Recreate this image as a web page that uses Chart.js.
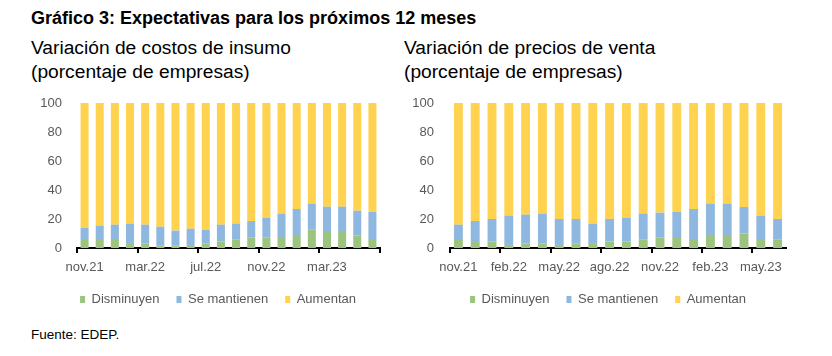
<!DOCTYPE html>
<html>
<head>
<meta charset="utf-8">
<script src="https://cdn.jsdelivr.net/npm/chart.js@4"></script>
<style>
  html, body { margin:0; padding:0; background:#fff; }
  body { width:832px; height:356px; position:relative; overflow:hidden; font-family:"Liberation Sans", Arial, sans-serif; }
  .t { position:absolute; white-space:nowrap; color:#000; }
  #title { left:31px; top:8px; font-size:18px; font-weight:bold; line-height:20px; }
  .sub { font-size:19.2px; line-height:24px; top:36px; }
  #subL { left:31px; }
  #subR { left:404px; }
  #src { left:31px; top:327px; font-size:13.5px; line-height:16px; }
  canvas { position:absolute; top:92px; }
  #cL { left:0px; }
  #cR { left:373px; }
</style>
</head>
<body>
<div id="title" class="t">Gráfico 3: Expectativas para los próximos 12 meses</div>
<div id="subL" class="t sub">Variación de costos de insumo<br>(porcentaje de empresas)</div>
<div id="subR" class="t sub">Variación de precios de venta<br>(porcentaje de empresas)</div>
<div id="src" class="t">Fuente: EDEP.</div>
<canvas id="cL" width="400" height="224"></canvas>
<canvas id="cR" width="433" height="224"></canvas>
<script>
const months = ["nov.21","dic.21","ene.22","feb.22","mar.22","abr.22","may.22","jun.22","jul.22","ago.22","sep.22","oct.22","nov.22","dic.22","ene.23","feb.23","mar.23","abr.23","may.23","jun.23"];
const seriesNames = ["Disminuyen","Se mantienen","Aumentan"];
const yTicks = [0,20,40,60,80,100];

// Variación de costos de insumo
const costosDisminuyen = [6.2,6.2,6.2,3.4,3.0,1.6,1.6,2.1,3.0,4.4,5.7,7.1,7.1,7.6,9.0,12.6,11.7,11.7,8.5,6.2];
const costosSeMantienen = [7.8,9.2,9.9,13.4,13.1,13.1,10.4,11.2,9.6,11.7,11.1,11.5,13.8,16.1,17.9,18.0,16.8,16.8,17.2,18.9];
const costosAumentan = [86.0,84.6,83.9,83.2,83.9,85.3,88.0,86.7,87.4,83.9,83.2,81.4,79.1,76.3,73.1,69.4,71.5,71.5,74.3,74.9];

// Variación de precios de venta
const preciosDisminuyen = [6.2,4.8,4.4,2.1,3.0,3.0,2.1,3.0,3.4,4.4,4.4,5.7,7.1,7.6,6.2,9.0,9.0,9.9,6.2,5.7];
const preciosSeMantienen = [9.9,13.8,15.6,20.2,20.0,20.7,17.9,17.0,13.4,15.6,16.5,18.0,17.3,17.5,20.7,21.6,21.6,18.4,16.1,14.3];
const preciosAumentan = [83.9,81.4,80.0,77.7,77.0,76.3,80.0,80.0,83.2,80.0,79.1,76.3,75.6,74.9,73.1,69.4,69.4,71.7,77.7,80.0];

const colors = ["#9DC47F","#8EB8E0","#FFD34F"];
const textGray = "#595959";
const font = {family:"'Liberation Sans', Arial, sans-serif", size:13};

function makeChart(id, data, every, endTick, padLeft, yWidth, yGap) {
  return new Chart(document.getElementById(id), {
    type: 'bar',
    data: {
      labels: months,
      datasets: data.map((d, i) => ({
        label: seriesNames[i],
        data: d,
        backgroundColor: colors[i],
        borderWidth: 0,
        categoryPercentage: 1,
        barPercentage: 0.53
      }))
    },
    options: {
      responsive: false,
      animation: false,
      devicePixelRatio: 1,
      layout: { autoPadding: false, padding: { left: padLeft, right: 20, top: 11, bottom: 0 } },
      plugins: {
        tooltip: { enabled: false },
        legend: {
          position: 'bottom',
          labels: { boxWidth: 5, boxHeight: 7, padding: 17, color: textGray, font: font }
        }
      },
      scales: {
        x: {
          stacked: true,
          offset: true,
          grid: {
            display: true,
            drawOnChartArea: false,
            drawTicks: true,
            tickLength: 5,
            lineWidth: 2,
            offset: true,
            color: (ctx) => (ctx.type === 'scale' ? (endTick ? '#000' : 'rgba(0,0,0,0)') : (ctx.index % every === 0 ? '#000' : 'rgba(0,0,0,0)'))
          },
          border: { display: true, color: '#000', width: 2 },
          ticks: {
            autoSkip: false,
            maxRotation: 0,
            minRotation: 0,
            padding: 7,
            color: textGray,
            font: font,
            callback: function(value, index) { return index % every === 0 ? months[index] : ''; }
          },
          afterFit: (s) => { s.height = 28; }
        },
        y: {
          stacked: true,
          min: 0,
          max: 100,
          grid: { display: false, drawTicks: true, tickLength: yGap },
          border: { display: false },
          afterBuildTicks: (s) => { s.ticks = yTicks.map(v => ({ value: v })); },
          ticks: { padding: 0, color: textGray, font: font },
          afterSetDimensions: (s) => { s._computeLabelArea = function() { return undefined; }; },
          afterFit: (s) => { s.width = yWidth; }
        }
      }
    }
  });
}

makeChart('cL', [costosDisminuyen, costosSeMantienen, costosAumentan], 4, true, 56, 21, 15);
makeChart('cR', [preciosDisminuyen, preciosSeMantienen, preciosAumentan], 3, false, 57, 20, 16);
</script>
</body>
</html>
